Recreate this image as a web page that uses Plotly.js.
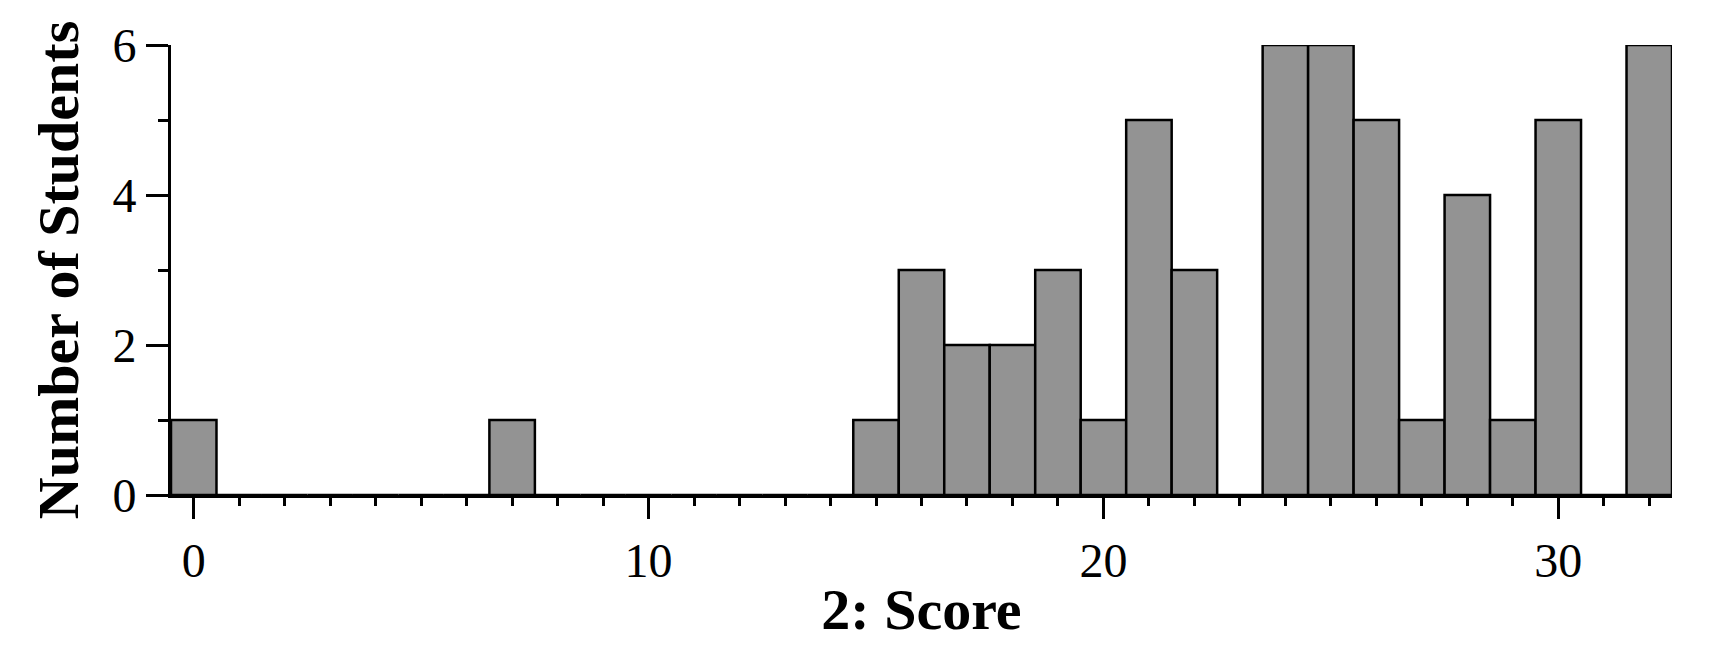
<!DOCTYPE html>
<html>
<head>
<meta charset="utf-8">
<script src="https://cdn.plot.ly/plotly-3.0.1.min.js"></script>
<style>html,body{margin:0;padding:0;background:#fff;}#chart{width:1712px;height:658px;}</style>
</head>
<body>
<div id="chart"></div>
<script>
// Histogram of scores (bin centres) and counts
const scores = [0, 1, 2, 3, 4, 5, 6, 7, 8, 9, 10, 11, 12, 13, 14, 15, 16, 17, 18, 19, 20, 21, 22, 23, 24, 25, 26, 27, 28, 29, 30, 31, 32];
const counts = [1, 0, 0, 0, 0, 0, 0, 1, 0, 0, 0, 0, 0, 0, 0, 1, 3, 2, 2, 3, 1, 5, 3, 0, 6, 6, 5, 1, 4, 1, 5, 0, 6];
const xTickVals = [0, 10, 20, 30];
const yTickVals = [0, 2, 4, 6];
const xTitle = "2: Score";
const yTitle = "Number of Students";

const FONT = "Liberation Serif, Times New Roman, serif";

const trace = {
  type: "bar",
  x: scores,
  y: counts,
  width: 1,
  marker: { color: "#939393", line: { color: "#000000", width: 2.5 } },
  hoverinfo: "x+y"
};

const layout = {
  width: 1712,
  height: 658,
  margin: { l: 171, r: 40, t: 45, b: 163 },
  paper_bgcolor: "#ffffff",
  plot_bgcolor: "#ffffff",
  showlegend: false,
  bargap: 0,
  font: { family: FONT, color: "#000000", size: 48 },
  xaxis: {
    range: [-0.5, 32.5],
    tickvals: xTickVals,
    ticktext: xTickVals.map(String),
    ticks: "outside",
    ticklen: 21,
    tickwidth: 3,
    tickcolor: "#000",
    minor: { dtick: 1, tick0: 0, ticks: "outside", ticklen: 8, tickwidth: 3, tickcolor: "#000", showgrid: false },
    showline: true,
    linecolor: "#000",
    linewidth: 3,
    showgrid: false,
    zeroline: false,
    tickfont: { family: FONT, size: 48, color: "#000" },
    title: { text: "<b>" + xTitle + "</b>", font: { family: FONT, size: 58, color: "#000" }, standoff: 3 },
    automargin: false
  },
  yaxis: {
    range: [0, 6],
    tickvals: yTickVals,
    ticktext: yTickVals.map(String),
    ticks: "outside",
    ticklen: 22,
    tickwidth: 3,
    tickcolor: "#000",
    minor: { dtick: 1, tick0: 0, ticks: "outside", ticklen: 10, tickwidth: 3, tickcolor: "#000", showgrid: false },
    showline: true,
    linecolor: "#000",
    linewidth: 3,
    showgrid: false,
    zeroline: false,
    tickfont: { family: FONT, size: 48, color: "#000" },
    title: { text: "<b>" + yTitle + "</b>", font: { family: FONT, size: 58, color: "#000" }, standoff: 16 },
    automargin: false
  }
};

Plotly.newPlot("chart", [trace], layout, { displayModeBar: false, staticPlot: true });
</script>
</body>
</html>
